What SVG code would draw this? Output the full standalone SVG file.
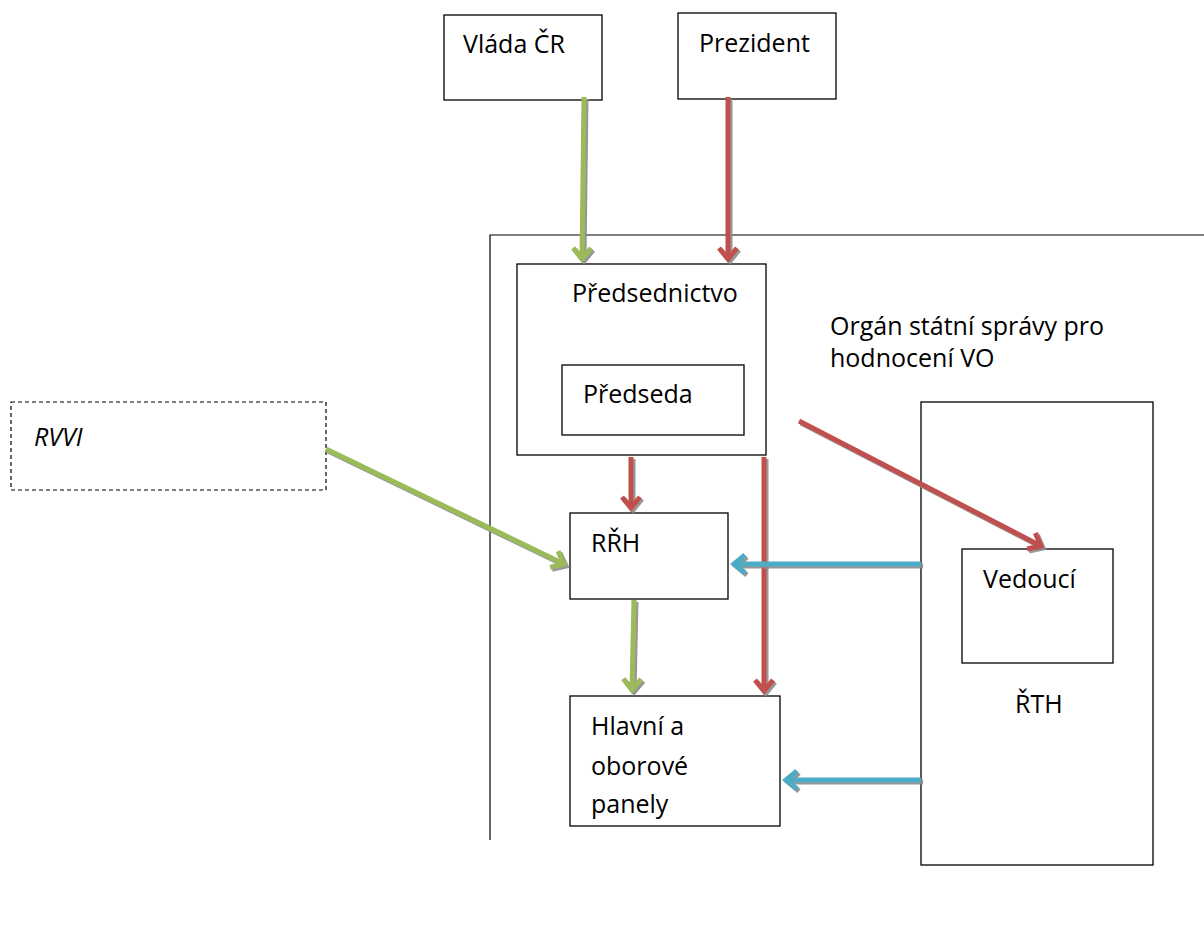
<svg xmlns="http://www.w3.org/2000/svg" width="1204" height="925" viewBox="0 0 1204 925">
<style>
.box{fill:#fff;stroke:#000;stroke-width:1.3}
.dash{fill:#fff;stroke:#000;stroke-width:1.2;stroke-dasharray:4 3}
.t{font-family:"Open Sans","Liberation Sans",sans-serif;font-size:25px;fill:#000}
.c{fill:none;stroke-width:5;filter:url(#sh)}
.g{stroke:#9BBB59}
.r{stroke:#C0504D}
.b{stroke:#4BACC6}
</style>
<defs>
<filter id="sh" filterUnits="userSpaceOnUse" x="0" y="0" width="1204" height="925">
<feDropShadow dx="2" dy="2" stdDeviation="0.6" flood-color="#8a8a8a" flood-opacity="0.9"/>
</filter>
<marker id="mg" markerUnits="userSpaceOnUse" markerWidth="30" markerHeight="30" viewBox="-15 -15 30 30" refX="0" refY="0" orient="auto"><path d="M-11,-9 L0,0 L-11,9" fill="none" stroke="#9BBB59" stroke-width="5" stroke-linejoin="miter"/></marker>
<marker id="mr" markerUnits="userSpaceOnUse" markerWidth="30" markerHeight="30" viewBox="-15 -15 30 30" refX="0" refY="0" orient="auto"><path d="M-11,-9 L0,0 L-11,9" fill="none" stroke="#C0504D" stroke-width="5" stroke-linejoin="miter"/></marker>
<marker id="mb" markerUnits="userSpaceOnUse" markerWidth="30" markerHeight="30" viewBox="-15 -15 30 30" refX="0" refY="0" orient="auto"><path d="M-11,-9 L0,0 L-11,9" fill="none" stroke="#4BACC6" stroke-width="5" stroke-linejoin="miter"/></marker>
</defs>
<rect width="1204" height="925" fill="#fff"/>
<g id="frame">
<path d="M490,840 L490,235 L1204,235" fill="none" stroke="#000" stroke-width="1.2"/>
<text class="t" x="830" y="335">Orgán státní správy pro</text>
<text class="t" x="830" y="367">hodnocení VO</text>
</g>
<g id="vlada"><rect class="box" x="444" y="15" width="158" height="85"/><text class="t" x="463" y="53">Vláda ČR</text></g>
<g id="prezident"><rect class="box" x="678" y="13" width="158" height="86"/><text class="t" x="699" y="52">Prezident</text></g>
<g id="predsednictvo"><rect class="box" x="517" y="264" width="249" height="191"/><text class="t" x="572" y="302">Předsednictvo</text></g>
<g id="predseda"><rect class="box" x="562" y="365" width="182" height="70"/><text class="t" x="583" y="403">Předseda</text></g>
<g id="rvvi"><rect class="dash" x="11" y="402" width="315" height="88"/><text class="t" x="34" y="446" font-style="italic">RVVI</text></g>
<g id="rrh"><rect class="box" x="570" y="513" width="158" height="86"/><text class="t" x="591" y="552">RŘH</text></g>
<g id="panely"><rect class="box" x="570" y="696" width="210" height="130"/><text class="t" x="591" y="735">Hlavní a</text><text class="t" x="591" y="775">oborové</text><text class="t" x="591" y="813">panely</text></g>
<g id="rth"><rect class="box" x="921" y="402" width="232" height="463"/><text class="t" x="1015" y="713">ŘTH</text></g>
<g id="vedouci"><rect class="box" x="962" y="549" width="151" height="114"/><text class="t" x="983" y="588">Vedoucí</text></g>
<g id="connectors">
<line class="c g" x1="584" y1="97" x2="582" y2="259" marker-end="url(#mg)"/>
<line class="c r" x1="728" y1="97" x2="728" y2="259" marker-end="url(#mr)"/>
<line class="c r" x1="631" y1="457" x2="631" y2="508" marker-end="url(#mr)"/>
<line class="c r" x1="764" y1="457" x2="764" y2="691" marker-end="url(#mr)"/>
<line class="c r" x1="799" y1="421" x2="1041" y2="546" marker-end="url(#mr)"/>
<line class="c g" x1="326" y1="449" x2="564" y2="564" marker-end="url(#mg)"/>
<line class="c b" x1="921" y1="564" x2="734" y2="564" marker-end="url(#mb)"/>
<line class="c g" x1="634" y1="600" x2="632" y2="690" marker-end="url(#mg)"/>
<line class="c b" x1="921" y1="780" x2="786" y2="780" marker-end="url(#mb)"/>
</g>
</svg>
